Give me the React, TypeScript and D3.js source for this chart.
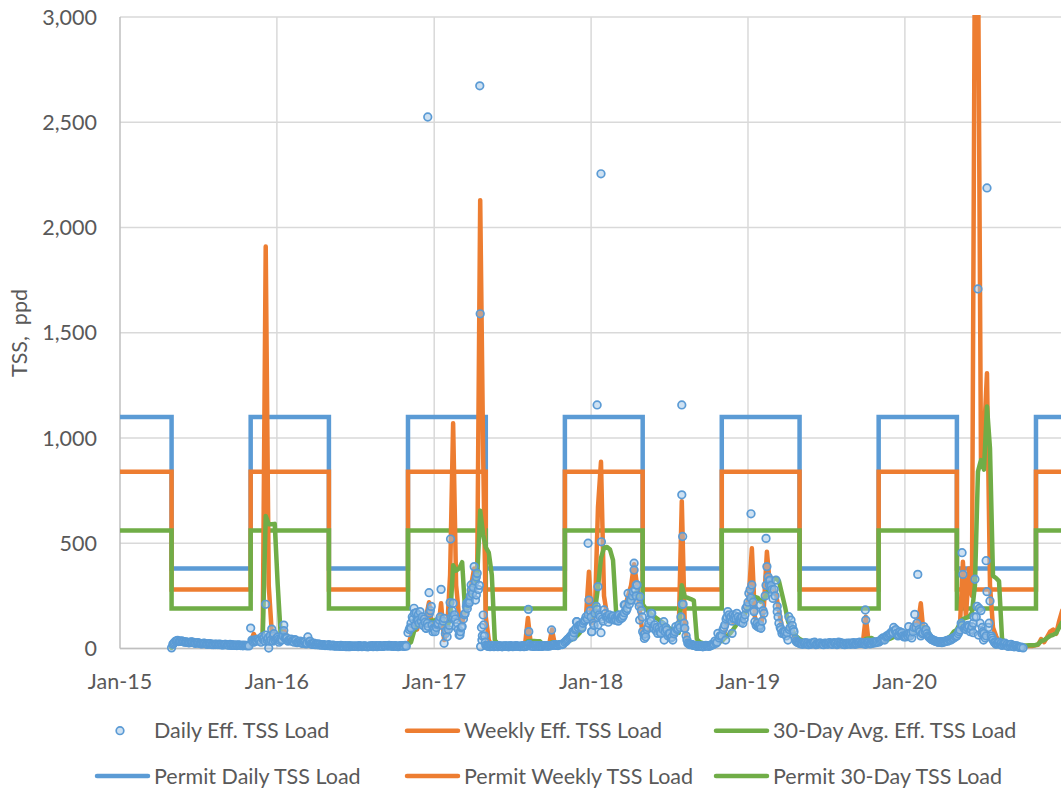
import React from "react";
import * as d3 from "d3";

const W = 1061;
const H = 791;

// ---- season start dates (readings sampled inside each season) ----
const seasonStarts = [
  "2015-05-01", "2015-11-01", "2016-05-01", "2016-11-01", "2017-05-01", "2017-11-01",
  "2018-05-01", "2018-11-01", "2019-05-01", "2019-11-01", "2020-05-01",
];

// ---- Daily Eff. TSS Load (ppd), readings on day 0 of each week ----
const dailyS1 = [3, 30, 38, 35, 32, 30, 28, 30, 25, 26, 22, 24, 20, 22, 18, 20, 19, 17, 20, 16, 18, 15, 17, 14, 16, 13];
const dailyS2 = [97, 30, 35, 40, 45, 64, 2, 92, 40, 55, 45, 111, 50, 40, 35, 38, 30, 25, 30, 55, 22, 25, 18, 20, 16, 15];
const dailyS3 = [18, 15, 14, 12, 15, 10, 12, 9, 11, 10, 13, 9, 12, 8, 10, 12, 9, 14, 10, 12, 15, 11, 13, 9, 12, 10];
const dailyS4 = [75, 120, 191, 135, 175, 110, 96, 265, 112, 80, 120, 281, 143, 56, 218, 215, 104, 64, 104, 167, 215, 302, 389, 357, 1590, 159];
const dailyS5 = [15, 10, 12, 14, 9, 11, 10, 12, 13, 9, 13, 10, 11, 12, 15, 12, 10, 14, 11, 12, 13, 12, 15, 18, 14, 20];
const dailyS6 = [30, 45, 60, 75, 127, 110, 120, 150, 230, 80, 167, 294, 75, 183, 150, 140, 155, 135, 160, 145, 207, 262, 230, 405, 302, 246];
const dailyS7 = [80, 56, 120, 167, 112, 72, 72, 127, 88, 72, 40, 104, 112, 1157, 96, 25, 20, 15, 10, 12, 8, 15, 10, 20, 35, 72];
const dailyS8 = [60, 112, 175, 151, 143, 167, 130, 120, 191, 262, 302, 127, 104, 96, 167, 389, 325, 238, 325, 120, 72, 80, 40, 135, 80, 30];
const dailyS9 = [25, 20, 28, 18, 22, 30, 20, 25, 18, 22, 28, 20, 24, 30, 22, 18, 25, 20, 28, 22, 30, 25, 20, 28, 24, 30];
const dailyS10 = [30, 45, 40, 60, 72, 100, 72, 80, 60, 55, 70, 50, 162, 352, 60, 104, 70, 50, 40, 35, 30, 28, 32, 35, 40, 50];
const dailyS11 = [60, 88, 352, 90, 104, 104, 329, 1708, 180, 72, 2188, 226, 40, 20, 30, 15, 25, 10, 20, 8, 12, 5, 3];

// ---- Daily Eff. TSS Load (ppd), readings on day 3 of each week ----
const midS1 = [20, 35, 33, 36, 30, 29, 31, 27, 27, 24, 23, 21, 23, 19, 21, 18, 20, 18, 17, 19, 15, 16, 16, 15, 14, 15];
const midS2 = [40, 35, 45, 30, 50, 40, 60, 35, 45, 30, 40, 50, 35, 45, 30, 28, 35, 25, 22, 30, 20, 18, 22, 16, 18, 14];
const midS3 = [12, 16, 11, 13, 10, 14, 9, 12, 10, 11, 12, 10, 9, 11, 13, 10, 12, 11, 13, 14, 12, 10, 12, 11, 13, 15];
const midS4 = [90, 150, 110, 160, 130, 140, 120, 180, 95, 100, 135, 110, 70, 90, 150, 160, 120, 80, 140, 200, 230, 260, 320, 280, 100, 60];
const midS5 = [12, 9, 11, 10, 13, 8, 12, 9, 11, 10, 12, 9, 13, 10, 20, 11, 13, 10, 12, 14, 11, 13, 16, 15, 17, 19];
const midS6 = [35, 50, 65, 90, 100, 115, 130, 140, 180, 120, 200, 160, 140, 165, 145, 150, 135, 150, 140, 155, 180, 210, 250, 280, 220, 180];
const midS7 = [65, 90, 140, 100, 85, 95, 110, 80, 60, 50, 70, 90, 100, 210, 60, 22, 18, 14, 12, 10, 12, 14, 12, 18, 25, 50];
const midS8 = [90, 140, 160, 130, 155, 150, 125, 140, 200, 280, 220, 110, 100, 130, 250, 340, 300, 280, 200, 100, 80, 60, 90, 110, 45, 28];
const midS9 = [22, 26, 20, 24, 28, 18, 24, 20, 26, 20, 24, 28, 18, 25, 20, 24, 22, 26, 20, 28, 24, 22, 26, 22, 30, 28];
const midS10 = [35, 50, 55, 65, 80, 85, 60, 70, 55, 65, 60, 80, 100, 90, 70, 80, 60, 45, 38, 32, 30, 30, 35, 40, 45, 55];
const midS11 = [70, 120, 95, 100, 80, 120, 150, 190, 100, 50, 100, 60, 30, 25, 20, 22, 15, 18, 10, 14, 8, 6];

// ---- Daily Eff. TSS Load (ppd), readings on day 5 of each week ----
const lateS1 = [25, 36, 34, 33, 31, 27, 30, 26, 28, 23, 25, 22, 21, 20, 19, 21, 17, 19, 18, 15, 17, 14, 16, 13, 15, 12];
const lateS2 = [35, 42, 38, 55, 35, 48, 40, 70, 50, 38, 60, 45, 40, 35, 42, 30, 28, 32, 25, 35, 20, 22, 17, 18, 14, 16];
const lateS3 = [14, 11, 13, 10, 12, 9, 13, 10, 12, 9, 11, 12, 10, 12, 9, 13, 11, 10, 14, 11, 13, 12, 10, 14, 12, 11];
const lateS4 = [100, 140, 170, 120, 150, 125, 105, 200, 90, 115, 150, 130, 85, 110, 180, 140, 90, 100, 160, 190, 250, 290, 340, 300, 60, 30];
const lateS5 = [11, 13, 9, 12, 10, 12, 11, 9, 12, 11, 10, 12, 9, 14, 13, 12, 11, 13, 10, 13, 12, 14, 17, 16, 18, 22];
const lateS6 = [40, 55, 80, 95, 110, 100, 135, 160, 150, 110, 185, 150, 130, 150, 160, 140, 145, 155, 150, 170, 190, 230, 270, 250, 200, 150];
const lateS7 = [70, 100, 130, 95, 100, 80, 90, 100, 70, 55, 80, 95, 150, 120, 40, 18, 16, 13, 11, 12, 10, 13, 15, 22, 30, 60];
const lateS8 = [100, 150, 140, 160, 140, 130, 150, 160, 220, 240, 180, 120, 110, 180, 300, 320, 280, 250, 150, 90, 70, 75, 100, 90, 35, 26];
const lateS9 = [24, 22, 26, 20, 25, 22, 26, 22, 24, 26, 20, 25, 22, 28, 24, 20, 26, 22, 25, 24, 26, 28, 30, 25, 26, 32];
const lateS10 = [40, 48, 60, 70, 75, 90, 65, 75, 60, 58, 75, 100, 120, 80, 75, 90, 55, 42, 35, 30, 32, 34, 38, 42, 50, 58];
const lateS11 = [80, 110, 100, 110, 90, 150, 200, 120, 80, 60, 120, 50, 28, 22, 25, 18, 20, 12, 15, 9, 7];

// individual daily readings off the regular sampling
const dailyExtraDates = [
  "2015-12-06", "2015-12-24", "2016-01-17", "2015-12-15", "2016-01-05",
  "2016-11-08", "2016-11-16", "2016-11-25", "2016-12-13", "2016-12-17", "2016-12-21", "2016-12-29",
  "2017-01-10", "2017-01-24", "2017-02-08", "2017-02-14", "2017-03-02", "2017-03-18", "2017-03-24",
  "2017-03-28", "2017-04-07", "2017-04-09", "2017-04-17", "2017-04-19", "2017-04-22", "2017-04-26",
  "2017-08-08", "2017-08-09", "2017-10-01",
  "2017-11-20", "2017-11-28", "2017-12-10", "2017-12-25", "2018-01-02", "2018-01-15", "2018-01-17",
  "2018-01-24", "2018-01-25", "2018-02-10", "2018-02-20", "2018-03-05", "2018-03-12", "2018-03-19",
  "2018-04-11", "2018-04-16", "2018-04-24",
  "2018-05-05", "2018-05-20", "2018-06-20", "2018-07-31", "2018-08-02", "2018-08-01", "2018-08-06",
  "2018-11-10", "2018-11-25", "2018-12-15", "2019-01-08", "2019-01-15", "2019-01-30", "2019-02-12",
  "2019-02-20", "2019-03-10", "2019-04-06",
  "2019-10-01", "2019-10-02", "2020-01-10",
  "2020-05-13", "2020-05-25", "2020-06-08", "2020-06-20", "2020-06-28", "2020-07-02", "2020-07-08", "2020-07-10",
];
const dailyExtraValues = [
  210, 60, 85, 35, 45,
  96, 167, 135, 96, 2525, 167, 80,
  120, 25, 520, 151, 64, 215, 218,
  278, 230, 254, 2673, 9, 40, 112,
  186, 80, 88,
  55, 127, 95, 500, 80, 1157, 112,
  2255, 507, 125, 140, 130, 150, 207,
  373, 302, 135,
  48, 167, 40, 730, 532, 210, 96,
  40, 72, 145, 640, 175, 207, 523,
  302, 175, 151,
  183, 135, 104,
  455, 100, 75, 64, 72, 40, 417, 270,
];

// ---- Weekly Eff. TSS Load (ppd) ----
const weeklyS1 = [5, 25, 35, 34, 31, 30, 28, 28, 25, 25, 22, 23, 20, 21, 18, 19, 18, 17, 18, 16, 17, 15, 16, 14, 15, 13];
const weeklyS2 = [30, 70, 40, 40, 45, 1910, 300, 80, 60, 50, 55, 90, 60, 45, 40, 35, 33, 30, 28, 40, 22, 22, 18, 18, 16, 15];
const weeklyS3 = [14, 13, 12, 12, 11, 11, 10, 11, 11, 11, 10, 11, 10, 10, 11, 11, 12, 11, 12, 13, 12, 12, 11, 11, 12, 13];
const weeklyS4 = [15, 60, 120, 90, 140, 110, 150, 220, 100, 120, 90, 215, 40, 90, 350, 1070, 300, 150, 120, 180, 230, 300, 380, 350, 2130, 900];
const weeklyS5 = [150, 40, 15, 12, 12, 12, 11, 11, 10, 11, 12, 11, 10, 12, 145, 15, 12, 12, 13, 12, 14, 15, 90, 16, 18, 20];
const weeklyS6 = [25, 35, 50, 60, 110, 90, 120, 150, 365, 120, 180, 670, 887, 250, 160, 140, 150, 145, 150, 150, 200, 250, 300, 400, 300, 160];
const weeklyS7 = [70, 60, 90, 105, 110, 95, 100, 110, 85, 65, 55, 65, 100, 700, 100, 25, 18, 15, 14, 14, 13, 14, 15, 18, 22, 35];
const weeklyS8 = [40, 80, 130, 140, 120, 150, 140, 130, 180, 250, 476, 150, 110, 100, 200, 460, 300, 290, 260, 180, 100, 80, 90, 120, 60, 25];
const weeklyS9 = [25, 22, 22, 20, 22, 24, 22, 22, 20, 22, 24, 22, 22, 24, 22, 20, 22, 22, 24, 22, 25, 22, 151, 25, 22, 25];
const weeklyS10 = [25, 30, 35, 45, 60, 80, 70, 60, 55, 50, 70, 90, 120, 110, 215, 60, 80, 60, 40, 35, 30, 28, 30, 35, 45, 60];
const weeklyS11 = [60, 100, 412, 150, 380, 250, 3400, 3400, 900, 1000, 1308, 300, 100, 60, 30, 20, 15, 12, 10, 10, 8, 8, 10, 10, 12, 12, 15, 18, 45, 30, 55, 80, 90, 70, 130, 180];

// ---- 30-Day Avg. Eff. TSS Load (ppd) ----
const avgS1 = [3, 15, 28, 33, 32, 30, 29, 28, 26, 25, 23, 22, 21, 20, 19, 19, 18, 17, 17, 16, 16, 15, 15, 14, 14, 13];
const avgS2 = [18, 30, 40, 42, 45, 630, 590, 590, 592, 300, 60, 62, 55, 50, 45, 40, 35, 32, 30, 28, 26, 25, 22, 20, 18, 16];
const avgS3 = [15, 14, 13, 12, 12, 11, 11, 11, 11, 11, 11, 11, 10, 10, 11, 11, 11, 11, 12, 12, 12, 12, 12, 12, 12, 12];
const avgS4 = [20, 30, 80, 104, 115, 125, 128, 130, 132, 135, 140, 150, 120, 100, 140, 395, 370, 380, 410, 175, 210, 260, 300, 340, 655, 540];
const avgS5 = [480, 455, 350, 40, 22, 18, 15, 14, 13, 13, 12, 12, 12, 14, 35, 36, 36, 35, 34, 20, 18, 17, 30, 28, 26, 30];
const avgS6 = [25, 32, 40, 48, 60, 75, 100, 125, 145, 155, 180, 290, 430, 478, 482, 470, 420, 180, 150, 160, 190, 215, 240, 262, 268, 242];
const avgS7 = [210, 190, 175, 160, 150, 140, 130, 120, 105, 95, 88, 80, 75, 300, 245, 240, 235, 228, 45, 30, 25, 22, 20, 20, 25, 30];
const avgS8 = [35, 50, 62, 75, 95, 115, 130, 155, 175, 200, 235, 245, 240, 222, 235, 255, 300, 325, 335, 320, 260, 200, 130, 95, 70, 55];
const avgS9 = [45, 38, 32, 28, 26, 25, 25, 24, 23, 23, 23, 23, 23, 23, 23, 23, 23, 23, 23, 23, 24, 25, 45, 48, 50, 40];
const avgS10 = [30, 35, 38, 42, 48, 55, 58, 60, 65, 68, 70, 75, 85, 95, 100, 100, 95, 65, 50, 45, 40, 40, 45, 50, 60, 80];
const avgS11 = [90, 120, 140, 145, 150, 170, 300, 840, 895, 850, 1150, 950, 345, 335, 320, 48, 20, 16, 15, 15, 14, 14, 14, 14, 15, 15, 16, 20, 35, 40, 50, 60, 65, 72, 100, 125];

// ---- Permit limits (seasonal steps) ----
const permitDates = [
  "2015-01-01", "2015-05-01", "2015-11-01", "2016-05-01", "2016-11-01", "2017-05-01", "2017-11-01",
  "2018-05-01", "2018-11-01", "2019-05-01", "2019-11-01", "2020-05-01", "2020-11-01", "2021-01-01",
];
const permitDaily = [1100, 380, 1100, 380, 1100, 380, 1100, 380, 1100, 380, 1100, 380, 1100, 1100];
const permitWeekly = [840, 280, 840, 280, 840, 280, 840, 280, 840, 280, 840, 280, 840, 840];
const permit30 = [560, 190, 560, 190, 560, 190, 560, 190, 560, 190, 560, 190, 560, 560];

// ---- axes ----
const yTicks = [0, 500, 1000, 1500, 2000, 2500, 3000];
const xTickDates = ["2015-01-01", "2016-01-01", "2017-01-01", "2018-01-01", "2019-01-01", "2020-01-01"];
const xTickLabels = ["Jan-15", "Jan-16", "Jan-17", "Jan-18", "Jan-19", "Jan-20"];

const BLUE = "#5B9BD5";
const ORANGE = "#ED7D31";
const GREEN = "#70AD47";
const TEXT = "#595959";
const MARKER_FILL = "rgba(157,195,230,0.5)";
const FONT = "Lato, 'Noto Sans', sans-serif";
const FS = 21.5;

type Pt = { date: Date; value: number };
const parse = d3.timeParse("%Y-%m-%d");

function expand(seasons: number[][], offsetDays = 0): Pt[] {
  const out: Pt[] = [];
  seasons.forEach((vals, s) => {
    const st = d3.timeDay.offset(parse(seasonStarts[s]) as Date, offsetDays);
    vals.forEach((v, k) => out.push({ date: d3.timeDay.offset(st, 7 * k), value: v }));
  });
  return out;
}

export default function App() {
  const x = d3.scaleTime()
    .domain([parse("2015-01-01") as Date, parse("2021-01-01") as Date])
    .range([120, 1062.2]);
  const y = d3.scaleLinear().domain([0, 3000]).range([648.5, 17]);

  const dailyGrid = expand([dailyS1, dailyS2, dailyS3, dailyS4, dailyS5, dailyS6, dailyS7, dailyS8, dailyS9, dailyS10, dailyS11]);
  const dailyMid = expand([midS1, midS2, midS3, midS4, midS5, midS6, midS7, midS8, midS9, midS10, midS11], 3);
  const dailyLate = expand([lateS1, lateS2, lateS3, lateS4, lateS5, lateS6, lateS7, lateS8, lateS9, lateS10, lateS11], 5);
  const dailyExtra: Pt[] = dailyExtraDates.map((d, i) => ({ date: parse(d) as Date, value: dailyExtraValues[i] }));
  const daily = dailyGrid.concat(dailyMid, dailyLate, dailyExtra).sort((a, b) => +a.date - +b.date);
  const weekly = expand([weeklyS1, weeklyS2, weeklyS3, weeklyS4, weeklyS5, weeklyS6, weeklyS7, weeklyS8, weeklyS9, weeklyS10, weeklyS11]);
  const avg30 = expand([avgS1, avgS2, avgS3, avgS4, avgS5, avgS6, avgS7, avgS8, avgS9, avgS10, avgS11]);

  const permit = (vals: number[]): Pt[] => permitDates.map((d, i) => ({ date: parse(d) as Date, value: vals[i] }));

  const line = d3.line<Pt>().x((d) => x(d.date)).y((d) => y(d.value));
  const stepLine = d3.line<Pt>().x((d) => x(d.date)).y((d) => y(d.value)).curve(d3.curveStepAfter);

  const SW = 4.5;
  const legendRows = [
    [
      { kind: "marker", color: BLUE, label: "Daily Eff. TSS Load", lx: 95, tx: 154 },
      { kind: "line", color: ORANGE, label: "Weekly Eff. TSS Load", lx: 405, tx: 464 },
      { kind: "line", color: GREEN, label: "30-Day Avg. Eff. TSS Load", lx: 714, tx: 773 },
    ],
    [
      { kind: "line", color: BLUE, label: "Permit Daily TSS Load", lx: 95, tx: 154 },
      { kind: "line", color: ORANGE, label: "Permit Weekly TSS Load", lx: 405, tx: 464 },
      { kind: "line", color: GREEN, label: "Permit 30-Day TSS Load", lx: 714, tx: 773 },
    ],
  ];
  const legendY = [730.7, 776];

  return (
    <div style={{ position: "absolute", left: 0, top: 0 }}>
      <svg width={W} height={H} style={{ display: "block", background: "#fff" }}>
        <defs>
          <clipPath id="plotClip">
            <rect x={0} y={15} width={W} height={H - 15} />
          </clipPath>
        </defs>
        {yTicks.map((t) => (
          <line key={"h" + t} x1={120} x2={1062} y1={y(t)} y2={y(t)} stroke="#D9D9D9" strokeWidth={1.5} />
        ))}
        {xTickDates.map((d) => {
          const xx = x(parse(d) as Date);
          return <line key={"v" + d} x1={xx} x2={xx} y1={y(3000)} y2={y(0)} stroke={xx === 120 ? "#BFBFBF" : "#D9D9D9"} strokeWidth={1.5} />;
        })}
        <line x1={120} x2={1062} y1={y(0)} y2={y(0)} stroke="#BFBFBF" strokeWidth={1.5} />

        {yTicks.map((t) => (
          <text key={"yl" + t} x={97} y={y(t)} dy="0.35em" textAnchor="end" fontFamily={FONT} fontSize={FS} fill={TEXT}>
            {d3.format(",")(t)}
          </text>
        ))}
        {xTickDates.map((d, i) => (
          <text key={"xl" + d} x={x(parse(d) as Date)} y={681.7} dy="0.35em" textAnchor="middle" fontFamily={FONT} fontSize={FS} fill={TEXT}>
            {xTickLabels[i]}
          </text>
        ))}
        <text transform="translate(19,333) rotate(-90)" textAnchor="middle" dy="0.35em" fontFamily={FONT} fontSize={FS} fill={TEXT} style={{ whiteSpace: "pre" }}>
          {"TSS,  ppd"}
        </text>

        <g clipPath="url(#plotClip)">
          <path d={stepLine(permit(permitDaily)) || ""} fill="none" stroke={BLUE} strokeWidth={SW} />
          <path d={stepLine(permit(permitWeekly)) || ""} fill="none" stroke={ORANGE} strokeWidth={SW} />
          <path d={stepLine(permit(permit30)) || ""} fill="none" stroke={GREEN} strokeWidth={SW} />
          <path d={line(weekly) || ""} fill="none" stroke={ORANGE} strokeWidth={SW} strokeLinejoin="round" strokeLinecap="round" />
          <path d={line(avg30) || ""} fill="none" stroke={GREEN} strokeWidth={SW} strokeLinejoin="round" strokeLinecap="round" />
          {daily.map((d, i) => (
            <circle key={"p" + i} cx={x(d.date)} cy={y(d.value)} r={3.8} fill={MARKER_FILL} stroke={BLUE} strokeWidth={1.7} />
          ))}
        </g>

        {legendRows.map((row, r) =>
          row.map((it) => (
            <g key={it.label}>
              {it.kind === "marker" ? (
                <circle cx={120} cy={legendY[r]} r={3.8} fill={MARKER_FILL} stroke={BLUE} strokeWidth={1.7} />
              ) : (
                <line x1={it.lx + 2} x2={it.lx + 53} y1={legendY[r]} y2={legendY[r]} stroke={it.color} strokeWidth={SW} strokeLinecap="round" />
              )}
              <text x={it.tx} y={legendY[r]} dy="0.35em" fontFamily={FONT} fontSize={FS} fill={TEXT}>
                {it.label}
              </text>
            </g>
          ))
        )}
      </svg>
    </div>
  );
}
